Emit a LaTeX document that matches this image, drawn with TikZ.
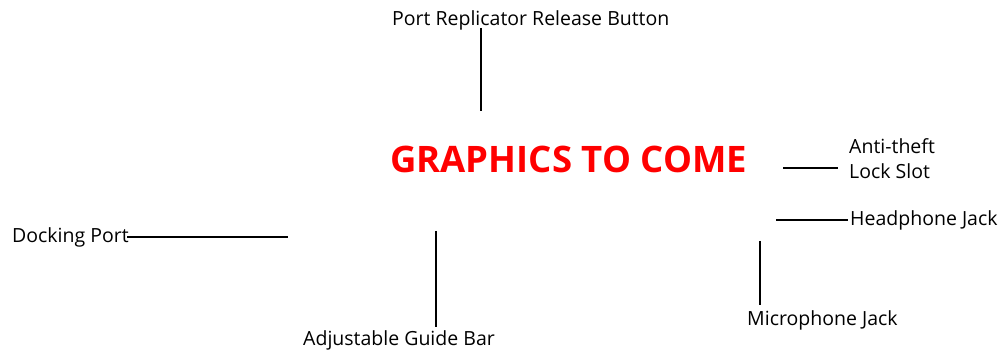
\documentclass[tikz,border=0pt]{standalone}
\usepackage{fontspec}
\setmainfont{Open Sans}
\begin{document}
\begin{tikzpicture}[x=1pt,y=-1pt,
  lbl/.style={inner sep=0pt,anchor=base west,font=\fontsize{19.5}{24}\selectfont},
  lead/.style={line width=1.7pt,draw=black}]
\useasboundingbox (0,0) rectangle (1003,352);
\node[lbl] (prrb) at (392,26) {Port Replicator Release Button};
\node[inner sep=0pt,anchor=base west,text=red,font=\fontsize{36.5}{42}\selectfont\bfseries] (gtc) at (390,173) {GRAPHICS TO COME};
\node[lbl,align=left,anchor=north west,font=\fontsize{19.5}{25}\selectfont] (anti) at (849,138.5) {Anti-theft\\Lock Slot};
\node[lbl] (head) at (850,226) {Headphone Jack};
\node[lbl] (dock) at (12,243) {Docking Port};
\node[lbl] (guide) at (303,345) {Adjustable Guide Bar};
\node[lbl] (mic) at (747,325) {Microphone Jack};
\coordinate (p1) at (481,28); \coordinate (p2) at (481,111);
\coordinate (a1) at (783,168); \coordinate (a2) at (838,168);
\coordinate (h1) at (776,220); \coordinate (h2) at (848,220);
\coordinate (d1) at (127,237); \coordinate (d2) at (288,237);
\coordinate (g1) at (436,231); \coordinate (g2) at (436,327);
\coordinate (m1) at (760,241); \coordinate (m2) at (760,305);
\draw[lead] (p1) -- (p2);
\draw[lead] (a1) -- (a2);
\draw[lead] (h1) -- (h2);
\draw[lead] (d1) -- (d2);
\draw[lead] (g1) -- (g2);
\draw[lead] (m1) -- (m2);
\end{tikzpicture}
\end{document}
